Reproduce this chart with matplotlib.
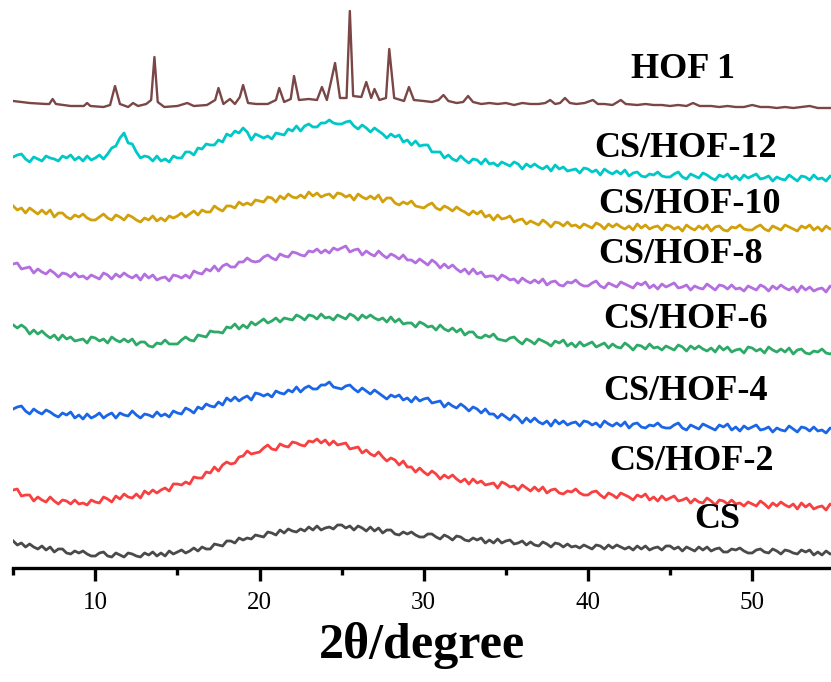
import numpy as np
import matplotlib
matplotlib.use("Agg")
import matplotlib.pyplot as plt
from matplotlib.ticker import MultipleLocator

plt.rcParams['font.family'] = ['Liberation Serif', 'DejaVu Serif']

# 2-theta grid shared by the amorphous scans (degrees), 0.25 deg step
two_theta = np.arange(5.0, 55.001, 0.25)

# intensities (a.u.) on the grid above, each relative to its own offset;
# one row = 5 degrees
cs = [17, 13, 15, 11, 14, 11, 9, 12, 8, 11, 6, 9, 9, 5, 4, 7, 5, 7, 4, 2,
      2, 5, 6, 2, 1, 5, 3, 1, 5, 4, 2, 1, 5, 3, 6, 2, 5, 2, 7, 4,
      6, 8, 5, 7, 10, 7, 11, 9, 9, 14, 13, 12, 17, 17, 15, 20, 18, 20, 19, 23,
      22, 21, 26, 25, 23, 28, 25, 29, 27, 26, 29, 27, 31, 28, 32, 28, 30, 31, 29, 33,
      33, 30, 32, 28, 32, 30, 27, 31, 27, 30, 25, 28, 28, 24, 23, 26, 24, 26, 23, 21,
      21, 24, 24, 21, 19, 23, 21, 18, 22, 21, 18, 17, 20, 18, 20, 15, 18, 15, 19, 15,
      17, 18, 14, 15, 17, 13, 16, 13, 12, 16, 14, 11, 15, 14, 11, 14, 11, 12, 10, 13,
      11, 9, 13, 12, 9, 13, 10, 13, 11, 9, 11, 8, 12, 9, 12, 8, 10, 11, 8, 12,
      12, 9, 11, 7, 11, 9, 7, 11, 8, 11, 7, 9, 10, 6, 6, 9, 8, 10, 7, 5,
      5, 8, 9, 6, 5, 9, 7, 4, 8, 7, 5, 4, 8, 6, 8, 3, 6, 3, 7, 4,
      5]
cs_hof2 = [18, 19, 12, 13, 13, 7, 11, 8, 6, 11, 7, 4, 8, 7, 4, 8, 4, 5, 3, 8,
           6, 5, 11, 9, 6, 12, 9, 14, 11, 10, 14, 10, 17, 14, 18, 15, 18, 20, 17, 24,
           24, 23, 26, 24, 31, 30, 30, 36, 35, 41, 37, 43, 46, 44, 45, 51, 52, 57, 54, 55,
           56, 60, 63, 59, 58, 64, 62, 61, 66, 65, 63, 62, 67, 66, 69, 65, 68, 63, 67, 63,
           64, 65, 59, 60, 61, 55, 58, 54, 52, 56, 51, 47, 50, 48, 43, 47, 41, 41, 36, 40,
           36, 33, 37, 34, 29, 33, 30, 33, 29, 26, 29, 24, 29, 25, 27, 23, 24, 25, 20, 26,
           24, 21, 22, 18, 23, 20, 17, 21, 17, 21, 15, 18, 19, 15, 14, 17, 16, 19, 15, 13,
           13, 16, 17, 13, 10, 15, 13, 10, 15, 13, 11, 8, 13, 11, 14, 8, 11, 7, 12, 8,
           10, 12, 7, 8, 10, 5, 9, 6, 5, 10, 7, 3, 8, 7, 4, 8, 4, 5, 2, 6,
           4, 2, 7, 4, 0, 5, 2, 6, 3, 1, 4, -1, 5, 1, 4, -1, 1, 2, -2, 4,
           1]
cs_hof4 = [24, 26, 27, 22, 19, 24, 21, 19, 23, 21, 18, 16, 20, 18, 21, 15, 18, 14, 19, 15,
           17, 20, 15, 18, 20, 15, 20, 18, 17, 22, 18, 15, 19, 18, 16, 21, 17, 19, 16, 22,
           20, 19, 25, 23, 20, 26, 24, 29, 27, 26, 31, 28, 35, 32, 36, 32, 35, 37, 33, 40,
           39, 37, 39, 36, 42, 40, 39, 43, 41, 46, 41, 45, 47, 44, 44, 48, 48, 51, 46, 45,
           44, 47, 48, 44, 41, 45, 42, 39, 43, 40, 37, 34, 38, 36, 38, 33, 35, 31, 36, 32,
           34, 35, 30, 31, 32, 26, 30, 27, 25, 29, 26, 22, 26, 24, 20, 24, 19, 19, 15, 19,
           16, 13, 18, 15, 10, 15, 11, 15, 11, 9, 12, 7, 13, 9, 12, 8, 10, 11, 7, 12,
           11, 8, 10, 6, 12, 9, 7, 10, 7, 11, 5, 9, 10, 6, 5, 8, 7, 10, 6, 5,
           5, 8, 10, 5, 3, 8, 6, 4, 9, 7, 5, 3, 8, 6, 9, 3, 6, 2, 7, 4,
           6, 8, 3, 4, 6, 1, 5, 3, 2, 7, 4, 1, 6, 5, 2, 6, 2, 3, 0, 5,
           3]
cs_hof6 = [28, 25, 28, 25, 19, 23, 19, 22, 18, 15, 18, 13, 18, 14, 16, 12, 13, 14, 10, 16,
           15, 12, 14, 10, 16, 13, 11, 14, 11, 14, 8, 11, 11, 7, 6, 10, 9, 13, 9, 9,
           9, 13, 16, 13, 12, 18, 17, 16, 22, 21, 21, 20, 26, 25, 29, 24, 28, 25, 31, 28,
           31, 34, 30, 32, 35, 31, 35, 34, 33, 38, 36, 33, 38, 37, 34, 39, 35, 36, 33, 38,
           36, 34, 39, 37, 33, 38, 35, 38, 35, 33, 35, 31, 36, 31, 34, 29, 30, 30, 26, 31,
           29, 26, 27, 23, 28, 24, 22, 25, 21, 24, 18, 21, 21, 16, 15, 18, 16, 19, 14, 13,
           12, 15, 16, 12, 9, 14, 12, 9, 14, 12, 10, 7, 12, 10, 13, 7, 10, 6, 11, 7,
           9, 11, 6, 8, 10, 5, 9, 6, 5, 10, 7, 3, 8, 7, 4, 9, 5, 6, 3, 7,
           5, 3, 8, 6, 2, 7, 4, 7, 4, 2, 5, 1, 7, 3, 6, 1, 3, 4, 0, 6,
           5, 2, 4, 0, 6, 3, 1, 4, 1, 5, -1, 3, 4, 0, -1, 2, 1, 4, 0, -1,
           1]
cs_hof8 = [29, 30, 24, 25, 26, 20, 24, 21, 19, 23, 20, 16, 20, 19, 16, 20, 16, 17, 14, 18,
           16, 14, 20, 18, 14, 19, 16, 20, 17, 15, 18, 13, 19, 15, 18, 13, 15, 16, 12, 18,
           17, 15, 18, 15, 22, 20, 19, 24, 22, 27, 22, 27, 29, 26, 26, 31, 31, 35, 32, 31,
           32, 36, 38, 35, 33, 39, 37, 36, 41, 40, 38, 37, 42, 41, 44, 40, 43, 40, 45, 43,
           45, 47, 41, 43, 44, 38, 42, 39, 37, 42, 38, 35, 39, 37, 34, 38, 33, 33, 30, 34,
           31, 28, 33, 30, 25, 29, 25, 28, 24, 21, 24, 19, 24, 19, 21, 16, 17, 17, 13, 18,
           16, 13, 14, 10, 15, 12, 10, 13, 10, 14, 8, 11, 12, 8, 7, 11, 10, 13, 9, 7,
           7, 10, 12, 7, 5, 10, 8, 6, 11, 9, 7, 5, 10, 8, 11, 5, 8, 4, 9, 6,
           8, 10, 5, 6, 8, 3, 7, 5, 4, 9, 6, 3, 8, 7, 4, 8, 4, 5, 2, 7,
           5, 3, 8, 6, 2, 7, 4, 8, 5, 3, 6, 1, 7, 3, 6, 2, 4, 5, 1, 7,
           4]
cs_hof10 = [27, 23, 25, 20, 25, 22, 19, 23, 19, 23, 16, 20, 20, 16, 14, 18, 16, 19, 15, 13,
            13, 16, 19, 15, 13, 18, 16, 13, 18, 16, 13, 11, 15, 13, 17, 12, 15, 12, 17, 15,
            17, 20, 16, 19, 22, 18, 23, 21, 21, 27, 24, 22, 27, 27, 25, 31, 28, 30, 28, 33,
            32, 31, 36, 35, 31, 37, 34, 39, 36, 35, 38, 35, 41, 37, 40, 36, 38, 39, 35, 40,
            39, 36, 38, 33, 39, 36, 34, 37, 34, 38, 31, 35, 35, 30, 28, 31, 29, 32, 27, 26,
            25, 28, 30, 25, 23, 27, 25, 22, 26, 23, 21, 18, 22, 19, 22, 16, 18, 13, 18, 14,
            15, 17, 11, 13, 14, 9, 12, 10, 8, 13, 10, 6, 11, 10, 7, 11, 7, 8, 5, 9,
            7, 5, 10, 8, 4, 9, 6, 9, 6, 4, 7, 3, 9, 5, 8, 4, 6, 7, 3, 8,
            7, 4, 6, 2, 8, 5, 3, 7, 4, 8, 2, 6, 7, 3, 2, 6, 5, 8, 4, 3,
            3, 6, 8, 4, 2, 7, 5, 3, 8, 6, 4, 2, 7, 5, 8, 3, 6, 2, 7, 4,
            5]
cs_hof12 = [26, 28, 29, 24, 21, 26, 24, 22, 27, 25, 24, 22, 27, 25, 28, 23, 26, 22, 27, 23,
            25, 28, 24, 29, 35, 37, 45, 50, 40, 39, 31, 25, 27, 26, 22, 27, 22, 24, 21, 27,
            25, 25, 31, 31, 28, 35, 34, 39, 38, 38, 43, 41, 49, 47, 52, 50, 55, 51, 43, 49,
            47, 45, 47, 44, 50, 49, 48, 54, 52, 57, 52, 57, 59, 56, 56, 60, 60, 63, 60, 59,
            59, 61, 62, 57, 54, 58, 55, 51, 55, 52, 49, 45, 49, 46, 48, 41, 43, 38, 42, 37,
            38, 38, 31, 31, 31, 25, 28, 24, 22, 27, 23, 20, 24, 23, 19, 24, 19, 20, 17, 21,
            19, 17, 21, 19, 14, 19, 16, 19, 16, 14, 17, 12, 18, 14, 16, 12, 13, 14, 10, 15,
            14, 11, 13, 8, 14, 11, 9, 12, 9, 13, 7, 10, 11, 7, 6, 9, 8, 11, 7, 6,
            6, 9, 11, 6, 4, 9, 7, 5, 10, 8, 5, 3, 8, 6, 9, 4, 7, 3, 8, 5,
            7, 9, 4, 5, 7, 2, 6, 4, 3, 8, 5, 2, 7, 6, 3, 8, 4, 5, 2, 7,
            5]

# crystalline HOF 1 pattern, sampled around each reflection
hof1_x = [5.0, 6.0, 7.0, 7.2, 7.4, 7.6, 8.5, 9.3, 9.5, 9.7,
          10.5, 10.9, 11.2, 11.5, 12.0, 12.3, 12.6, 13.1, 13.4, 13.6,
          13.8, 14.2, 15.0, 15.6, 16.0, 16.8, 17.3, 17.5, 17.8, 18.2,
          18.5, 18.8, 19.0, 19.3, 19.8, 20.5, 21.0, 21.2, 21.5, 21.9,
          22.1, 22.4, 23.0, 23.5, 23.8, 24.1, 24.4, 24.6, 24.9, 25.3,
          25.5, 25.7, 26.2, 26.5, 26.8, 27.0, 27.3, 27.7, 27.9, 28.2,
          28.8, 29.1, 29.4, 30.0, 30.5, 30.9, 31.2, 31.5, 32.0, 32.4,
          32.7, 33.0, 33.5, 34.0, 34.5, 35.0, 35.5, 36.0, 36.5, 37.0,
          37.4, 37.7, 38.0, 38.3, 38.6, 38.9, 39.3, 39.8, 40.3, 40.6,
          41.0, 41.5, 42.0, 42.3, 43.0, 43.5, 44.0, 44.5, 45.0, 45.5,
          46.0, 46.4, 46.8, 47.5, 48.0, 48.5, 49.0, 49.5, 50.0, 50.5,
          51.0, 51.5, 52.0, 52.5, 53.0, 53.5, 54.0, 54.5, 55.0]
hof1 = [12, 10, 9, 9, 14, 9, 7, 7, 10, 7,
        6, 8, 27, 9, 6, 10, 7, 9, 13, 56,
        11, 6, 7, 10, 7, 8, 13, 25, 9, 14,
        9, 16, 28, 10, 9, 9, 13, 25, 11, 14,
        37, 13, 14, 13, 26, 13, 35, 50, 15, 15,
        102, 17, 16, 31, 15, 24, 13, 15, 64, 15,
        12, 26, 13, 12, 11, 13, 18, 12, 10, 11,
        17, 11, 9, 10, 9, 10, 8, 10, 9, 9,
        10, 13, 9, 10, 15, 10, 9, 10, 13, 9,
        9, 8, 13, 9, 8, 9, 8, 8, 7, 8,
        7, 10, 7, 7, 6, 7, 6, 6, 8, 6,
        6, 5, 6, 5, 6, 7, 5, 5, 5]

names = ['CS', 'CS/HOF-2', 'CS/HOF-4', 'CS/HOF-6', 'CS/HOF-8',
         'CS/HOF-10', 'CS/HOF-12', 'HOF 1']
offsets = [10, 60, 135, 215, 275, 335, 385, 455]
colors = ['#4a4a4a', '#f84040', '#1a66e6', '#2eaa68', '#b36fe0',
          '#d2a00a', '#00c8c8', '#7a4646']
# label anchor (2-theta, baseline height) for each trace
label_x = [46.5, 41.3, 40.95, 40.95, 40.6, 40.65, 40.4, 42.65]
label_y = [40, 98, 168, 240, 305, 355, 411, 490]

series = [cs, cs_hof2, cs_hof4, cs_hof6, cs_hof8, cs_hof10, cs_hof12]

fig = plt.figure(figsize=(8.31, 6.82), dpi=100)
ax = fig.add_axes([13.2 / 831, 114 / 682, 817.8 / 831, 568 / 682])

for vals, off, col in zip(series, offsets, colors):
    ax.plot(two_theta, np.array(vals) + off, color=col, lw=2.0)
ax.plot(hof1_x, np.array(hof1) + offsets[-1], color=colors[-1], lw=1.7)

for name, tx, ty in zip(names, label_x, label_y):
    ax.text(tx, ty, name, fontsize=26, fontweight='bold', ha='left', va='baseline')

ax.set_xlim(5, 54.8)
ax.set_ylim(0, 568)
ax.set_yticks([])
for side in ['left', 'right', 'top']:
    ax.spines[side].set_visible(False)
ax.spines['bottom'].set_linewidth(2.4)

ax.xaxis.set_major_locator(MultipleLocator(10))
ax.xaxis.set_minor_locator(MultipleLocator(5))
ax.tick_params(axis='x', which='major', length=9, width=2.4, labelsize=18, pad=8)
ax.tick_params(axis='x', which='minor', length=5, width=2.4)
ax.set_xlabel('2θ/degree', fontsize=36, fontweight='bold', labelpad=6)

fig.savefig('out.png', dpi=100)
